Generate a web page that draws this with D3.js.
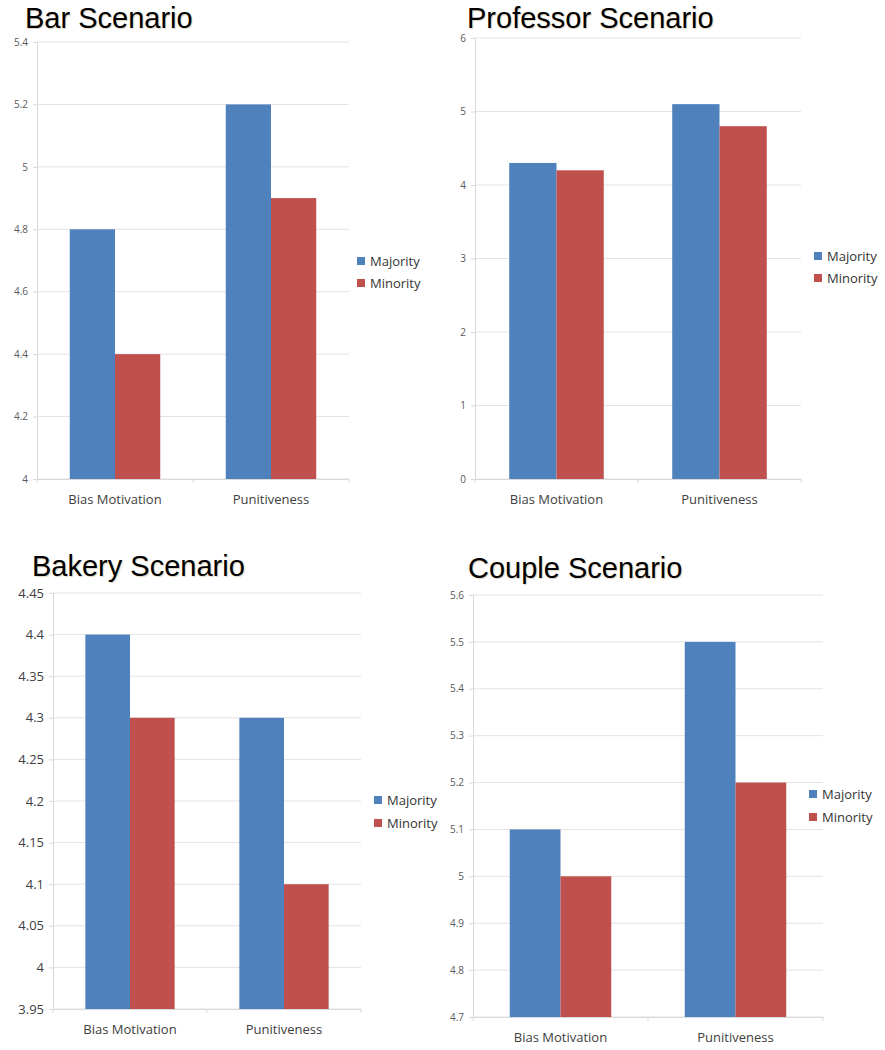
<!DOCTYPE html>
<html>
<head>
<meta charset="utf-8">
<script src="https://cdn.jsdelivr.net/npm/d3@7"></script>
<style>
  html, body { margin: 0; padding: 0; background: #fff; }
  svg { display: block; }
</style>
</head>
<body>
<svg id="chart" width="885" height="1050"></svg>
<script>
// ---- data ----
const categories = ["Bias Motivation", "Punitiveness"];
const seriesNames = ["Majority", "Minority"];
const titles = ["Bar Scenario", "Professor Scenario", "Bakery Scenario", "Couple Scenario"];

const barMajority = [4.8, 5.2];
const barMinority = [4.4, 4.9];
const professorMajority = [4.3, 5.1];
const professorMinority = [4.2, 4.8];
const bakeryMajority = [4.4, 4.3];
const bakeryMinority = [4.3, 4.1];
const coupleMajority = [5.1, 5.5];
const coupleMinority = [5.0, 5.2];

const barTicks = [4, 4.2, 4.4, 4.6, 4.8, 5, 5.2, 5.4];
const professorTicks = [0, 1, 2, 3, 4, 5, 6];
const bakeryTicks = [3.95, 4, 4.05, 4.1, 4.15, 4.2, 4.25, 4.3, 4.35, 4.4, 4.45];
const coupleTicks = [4.7, 4.8, 4.9, 5, 5.1, 5.2, 5.3, 5.4, 5.5, 5.6];

const colors = ["#4F81BD", "#C0504D"];

// ---- layout (per panel) ----
const panels = [
  { title: titles[0], values: [barMajority, barMinority], ticks: barTicks,
    x0: 37, x1: 349, y0: 42, y1: 479, titleX: 25, titleY: 28,
    tickSize: 10, tickColor: "#595959", legX: 357, legY: 257, legGap: 22 },
  { title: titles[1], values: [professorMajority, professorMinority], ticks: professorTicks,
    x0: 475, x1: 801, y0: 38, y1: 479, titleX: 467, titleY: 28,
    tickSize: 10, tickColor: "#595959", legX: 814, legY: 252, legGap: 22 },
  { title: titles[2], values: [bakeryMajority, bakeryMinority], ticks: bakeryTicks,
    x0: 53, x1: 361, y0: 593, y1: 1009, titleX: 32, titleY: 576,
    tickSize: 13, tickColor: "#404040", legX: 374, legY: 796, legGap: 23 },
  { title: titles[3], values: [coupleMajority, coupleMinority], ticks: coupleTicks,
    x0: 473, x1: 823, y0: 595, y1: 1017, titleX: 468, titleY: 578,
    tickSize: 10, tickColor: "#595959", legX: 809, legY: 790, legGap: 23 }
];

const svg = d3.select("#chart");

panels.forEach(p => {
  const g = svg.append("g");
  const ext = d3.extent(p.ticks);
  const y = d3.scaleLinear().domain(ext).range([p.y1, p.y0]);
  const x = d3.scaleBand().domain(categories).range([p.x0, p.x1]).paddingInner(0).paddingOuter(0);
  const groupFrac = 0.58;
  const xs = d3.scaleBand().domain(seriesNames)
    .range([x.bandwidth() * (1 - groupFrac) / 2, x.bandwidth() * (1 + groupFrac) / 2]);

  // gridlines
  g.append("g").selectAll("line").data(p.ticks).join("line")
    .attr("x1", p.x0).attr("x2", p.x1)
    .attr("y1", d => y(d)).attr("y2", d => y(d))
    .attr("stroke", "#e3e3e3").attr("stroke-width", 1);

  // y axis
  const yAxis = d3.axisLeft(y).tickValues(p.ticks).tickSize(4).tickPadding(5)
    .tickFormat(d => d3.format("~g")(+d.toFixed(2)));
  const ya = g.append("g").attr("transform", `translate(${p.x0},0)`).call(yAxis);
  ya.select(".domain").attr("stroke", "#d9d9d9");
  ya.selectAll(".tick line").attr("stroke", "#d9d9d9");
  ya.selectAll("text").attr("font-family", "Open Sans, sans-serif")
    .attr("font-size", p.tickSize).attr("fill", p.tickColor);

  // bars
  p.values.forEach((vals, si) => {
    g.append("g").selectAll("rect").data(categories.map((c, i) => ({ c, v: vals[i] }))).join("rect")
      .attr("x", d => x(d.c) + xs(seriesNames[si]))
      .attr("width", xs.bandwidth())
      .attr("y", d => y(d.v))
      .attr("height", d => y(ext[0]) - y(d.v))
      .attr("fill", colors[si]);
  });

  // x axis
  const xa = g.append("g").attr("transform", `translate(0,${p.y1})`)
    .call(d3.axisBottom(x).tickSize(0).tickPadding(16));
  xa.select(".domain").attr("stroke", "#d9d9d9");
  xa.selectAll("text").attr("font-family", "Open Sans, sans-serif")
    .attr("font-size", 13).attr("fill", "#404040");
  // separator ticks at band edges
  const edges = categories.map(c => x(c)).concat([p.x1]);
  g.append("g").selectAll("line").data(edges).join("line")
    .attr("x1", d => d).attr("x2", d => d)
    .attr("y1", p.y1).attr("y2", p.y1 + 4)
    .attr("stroke", "#d9d9d9");

  // title
  g.append("text").attr("x", p.titleX).attr("y", p.titleY)
    .attr("font-family", "Liberation Sans, Arial, sans-serif")
    .attr("font-size", 29).attr("fill", "#000")
    .style("text-shadow", "1px 1px 1px rgba(150,110,40,0.3)")
    .text(p.title);

  // legend
  const leg = g.append("g").attr("transform", `translate(${p.legX},${p.legY})`);
  seriesNames.forEach((s, i) => {
    leg.append("rect").attr("x", 0).attr("y", i * p.legGap).attr("width", 8).attr("height", 8)
      .attr("fill", colors[i]);
    leg.append("text").attr("x", 13).attr("y", i * p.legGap + 4).attr("dy", "0.35em")
      .attr("font-family", "Open Sans, sans-serif").attr("font-size", 13).attr("fill", "#333")
      .text(s);
  });
});
</script>
</body>
</html>
